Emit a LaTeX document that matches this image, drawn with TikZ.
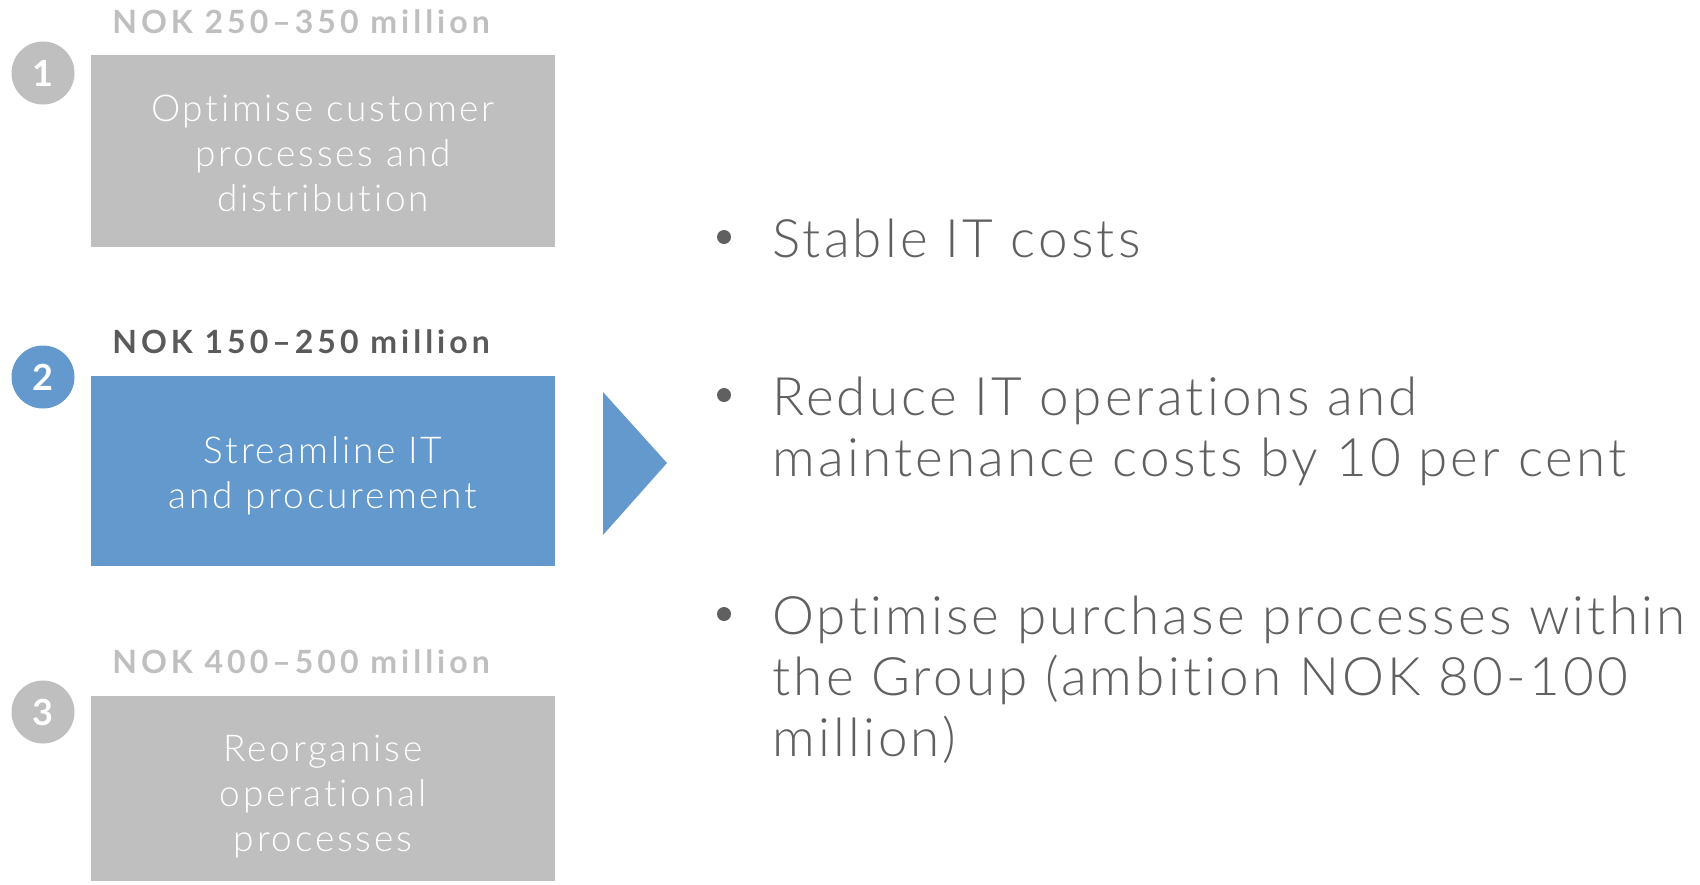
\documentclass[tikz,border=0pt]{standalone}
\usepackage{fontspec}
\setmainfont{Lato}[UprightFont=* Light, BoldFont=* Bold]
\newfontfamily\boxfont{Lato}[UprightFont=* Light, LetterSpace=7.5, Ligatures={NoCommon,NoContextual}]
\newfontfamily\listfont{Lato}[UprightFont=* Light, LetterSpace=6, Ligatures={NoCommon,NoContextual}]
\newfontfamily\labelfont{Lato}[UprightFont=* Bold, LetterSpace=12.5, Ligatures={NoCommon,NoContextual}]
\newfontfamily\numfont{Lato}[UprightFont=* Bold]
\definecolor{boxgray}{HTML}{BFBFBF}
\definecolor{stepblue}{HTML}{6399CC}
\definecolor{labeldark}{HTML}{5A5A5A}
\definecolor{bullettext}{HTML}{606060}
\begin{document}
\begin{tikzpicture}[x=0.5pt,y=-0.5pt,
  stepbox/.style={rectangle, inner sep=0pt, minimum width=232pt},
  steptext/.style={inner sep=0pt, text=white, align=center,
    font=\boxfont\fontsize{18.5}{22.5}\selectfont},
  numdot/.style={circle, inner sep=0pt, minimum size=31.5pt, text=white,
    font=\numfont\fontsize{18}{18}\selectfont},
  amount/.style={anchor=base west, inner sep=0pt, font=\labelfont\fontsize{16}{16}\selectfont},
  bullettxt/.style={anchor=base west, inner sep=0pt, text=bullettext,
    font=\listfont\fontsize{26.5}{30.5}\selectfont},
  bulletdot/.style={circle, fill=bullettext, inner sep=0pt, minimum size=7pt}]
\useasboundingbox (0,0) rectangle (1700,884);

% step 1 (inactive)
\node[amount, text=boxgray] (a1) at (112,33) {NOK 250–350 million};
\node[numdot, fill=boxgray] (n1) at (43,73) {1};
\node[stepbox, fill=boxgray, minimum height=96pt] (b1) at (323,151) {};
\node[steptext] (l1) at ([yshift=-1.4pt]b1.center)
  {Optimise customer\\processes and\\distribution};

% step 2 (active)
\node[amount, text=labeldark] (a2) at (112,353) {NOK 150–250 million};
\node[numdot, fill=stepblue] (n2) at (43,377) {2};
\node[stepbox, fill=stepblue, minimum height=95pt] (b2) at (323,471) {};
\node[steptext] (l2) at ([yshift=-2.4pt]b2.center)
  {Streamline IT\\and procurement};

% step 3 (inactive)
\node[amount, text=boxgray] (a3) at (112,673) {NOK 400–500 million};
\node[numdot, fill=boxgray] (n3) at (43,712) {3};
\node[stepbox, fill=boxgray, minimum height=92.5pt] (b3) at (323,788.5) {};
\node[steptext] (l3) at ([yshift=-4pt]b3.center)
  {Reorganise\\operational\\processes};

% pointer towards the measures
\coordinate (t1) at (603,392);
\coordinate (t2) at (603,535);
\coordinate (t3) at (667,463);
\fill[stepblue] (t1) -- (t3) -- (t2) -- cycle;

% measures for step 2 (first baseline of each item at the given point)
\node[bulletdot] (d1) at (724,237) {};
\node[bullettxt] (m1) at (772,257) {\vtop{\hbox{Stable IT costs}}};
\node[bulletdot] (d2) at (724,395) {};
\node[bullettxt] (m2) at (772,415)
  {\vtop{\hbox{Reduce IT operations and}\hbox{maintenance costs by 10 per cent}}};
\node[bulletdot] (d3) at (724,614) {};
\node[bullettxt] (m3) at (772,634)
  {\vtop{\hbox{Optimise purchase processes within}\hbox{the Group (ambition NOK 80-100}\hbox{million)}}};
\end{tikzpicture}
\end{document}
